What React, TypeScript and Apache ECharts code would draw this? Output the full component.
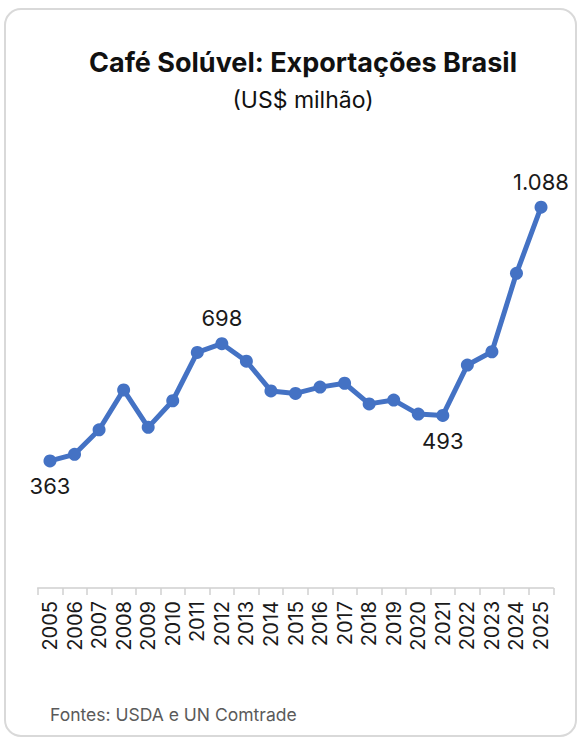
import React, { useEffect, useRef } from "react";
import * as echarts from "echarts";

const years: string[] = [
  "2005", "2006", "2007", "2008", "2009", "2010", "2011", "2012", "2013", "2014", "2015",
  "2016", "2017", "2018", "2019", "2020", "2021", "2022", "2023", "2024", "2025",
];
const exports: number[] = [
  363, 382, 452, 566, 459, 535, 673, 698, 648, 563, 556,
  574, 585, 526, 537, 497, 493, 637, 675, 899, 1088,
];
const labelledBelow: number[] = [0, 16];
const labelledAbove: number[] = [7, 20];

const titleText = "Café Solúvel: Exportações Brasil";
const subtitleText = "(US$ milhão)";
const sourceText = "Fontes: USDA e UN Comtrade";

const FONT = "Inter, 'Noto Sans', sans-serif";

function fmt(v: number): string {
  const s = Math.round(v).toString();
  return s.replace(/\B(?=(\d{3})+(?!\d))/g, ".");
}

export default function App() {
  const ref = useRef<HTMLDivElement>(null);
  useEffect(() => {
    if (!ref.current) return;
    const chart = echarts.init(ref.current, undefined, { renderer: "svg" });
    const data = exports.map((v, i) => {
      const below = labelledBelow.includes(i);
      const above = labelledAbove.includes(i);
      return {
        value: v,
        label: {
          show: below || above,
          position: below ? "bottom" : "top",
          distance: 8,
        },
      };
    });
    chart.setOption({
      animation: false,
      backgroundColor: "#ffffff",
      grid: { left: 37.7, right: 23.7, top: 168, bottom: 149, containLabel: false },
      xAxis: {
        type: "category",
        data: years,
        boundaryGap: true,
        axisLine: { show: true, lineStyle: { color: "#d0d0d0", width: 1.5 } },
        axisTick: { show: true, length: 7, lineStyle: { color: "#d0d0d0", width: 1.5 } },
        axisLabel: {
          rotate: 90,
          interval: 0,
          margin: 13,
          color: "#1a1a1a",
          fontFamily: FONT,
          fontSize: 20,
        },
      },
      yAxis: {
        type: "value",
        min: 0,
        max: 1200,
        show: false,
        splitLine: { show: false },
      },
      series: [
        {
          type: "line",
          data,
          symbol: "circle",
          symbolSize: 13,
          lineStyle: { color: "#4472C4", width: 5 },
          itemStyle: { color: "#4472C4" },
          label: {
            color: "#1a1a1a",
            fontFamily: FONT,
            fontSize: 22,
            formatter: (p: any) => fmt(p.value),
          },
        },
      ],
      graphic: [
        {
          type: "rect",
          silent: true,
          z: -10,
          shape: { x: 5, y: 9, width: 571, height: 727, r: 16 },
          style: { fill: "none", stroke: "#d9d9d9", lineWidth: 2 },
        },
        {
          type: "text",
          x: 303,
          y: 62,
          style: {
            text: titleText,
            textAlign: "center",
            textVerticalAlign: "middle",
            fontFamily: FONT,
            fontWeight: "bold",
            fontSize: 27,
            fill: "#111111",
          },
        },
        {
          type: "text",
          x: 303,
          y: 100,
          style: {
            text: subtitleText,
            textAlign: "center",
            textVerticalAlign: "middle",
            fontFamily: FONT,
            fontSize: 23,
            fill: "#111111",
          },
        },
        {
          type: "text",
          x: 50,
          y: 714,
          style: {
            text: sourceText,
            textAlign: "left",
            textVerticalAlign: "middle",
            fontFamily: FONT,
            fontSize: 17.5,
            fill: "#5a5a5a",
          },
        },
      ],
    });
    return () => chart.dispose();
  }, []);
  return (
    <div
      ref={ref}
      style={{ position: "absolute", left: 0, top: 0, width: 577, height: 737 }}
    />
  );
}
